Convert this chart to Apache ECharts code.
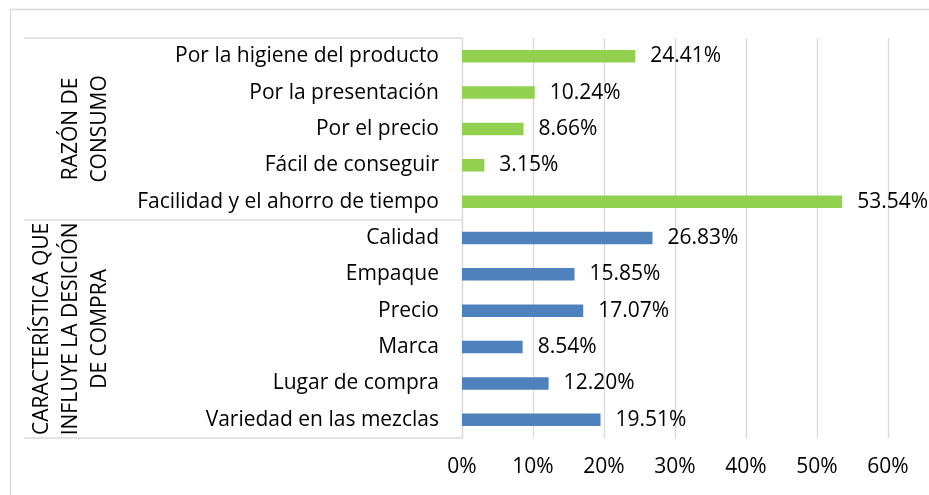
<!DOCTYPE html>
<html>
<head>
<meta charset="utf-8">
<script src="https://cdn.jsdelivr.net/npm/echarts@6/dist/echarts.min.js"></script>
<style>
  html, body { margin: 0; padding: 0; background: #fff; }
  #chart { width: 929px; height: 495px; }
</style>
</head>
<body>
<div id="chart"></div>
<script>
// categories from bottom to top (ECharts category y axis starts at the bottom)
const categories = [
    "Variedad en las mezclas", "Lugar de compra", "Marca", "Precio", "Empaque", "Calidad",
    "Facilidad y el ahorro de tiempo", "Fácil de conseguir", "Por el precio",
    "Por la presentación", "Por la higiene del producto"
];
const caracteristica = [19.51, 12.20, 8.54, 17.07, 15.85, 26.83, null, null, null, null, null];
const razon = [null, null, null, null, null, null, 53.54, 3.15, 8.66, 10.24, 24.41];
const groups = [
    { name: "CARACTERÍSTICA QUE\nINFLUYE LA DESICIÓN\nDE COMPRA", from: 0, to: 5 },
    { name: "RAZÓN DE\nCONSUMO", from: 6, to: 10 }
];
const xTicks = [0, 10, 20, 30, 40, 50, 60];

const FONT = "Open Sans";
const SIZE = 21;
const chart = echarts.init(document.getElementById("chart"));

const labelOpt = {
    show: true,
    position: "right",
    distance: 15,
    color: "#000",
    fontFamily: FONT,
    fontSize: SIZE,
    formatter: p => p.value.toFixed(2) + "%"
};

chart.setOption({
    animation: false,
    textStyle: { fontFamily: FONT },
    grid: { left: 462, right: 41, top: 38, bottom: 57 },
    xAxis: {
        type: "value",
        min: xTicks[0],
        max: xTicks[xTicks.length - 1],
        interval: 10,
        axisLine: { show: false },
        axisTick: { show: false },
        splitLine: { lineStyle: { color: "#d9d9d9", width: 1.3 } },
        axisLabel: { formatter: "{value}%", color: "#000", fontSize: SIZE, margin: 19, fontFamily: FONT }
    },
    yAxis: {
        type: "category",
        data: categories,
        axisLine: { lineStyle: { color: "#d9d9d9", width: 1.3 } },
        axisTick: { show: false },
        axisLabel: { color: "#000", fontSize: SIZE, margin: 23, fontFamily: FONT }
    },
    series: [
        {
            type: "bar", stack: "t", data: caracteristica, barWidth: 12.5,
            itemStyle: { color: "#4F81BD" }, label: labelOpt
        },
        {
            type: "bar", stack: "t", data: razon, barWidth: 12.5,
            itemStyle: { color: "#92D050" }, label: labelOpt
        }
    ]
});

// multi-level category decoration: separators and rotated group labels
const axisX = chart.convertToPixel({ xAxisIndex: 0 }, 0);
const cy = i => chart.convertToPixel({ yAxisIndex: 0 }, i);
const band = Math.abs(cy(0) - cy(1));
const lineLeft = 24;
const elements = [
    { type: "rect", shape: { x: 10.5, y: 9.5, width: 940, height: 500 },
      style: { fill: null, stroke: "#d9d9d9", lineWidth: 1.3 }, silent: true }
];
const bounds = [cy(0) + band / 2];
groups.forEach(g => bounds.push(cy(g.to) - band / 2));
bounds.forEach(y => {
    elements.push({ type: "line", shape: { x1: lineLeft, y1: y, x2: axisX, y2: y },
        style: { stroke: "#d9d9d9", lineWidth: 1.3 }, silent: true });
});
// last line of each group label sits at the same x, like Excel does
groups.forEach(g => {
    elements.push({
        type: "text", x: 115, y: (cy(g.from) + cy(g.to)) / 2, rotation: Math.PI / 2,
        style: { text: g.name, fill: "#000", font: SIZE + "px '" + FONT + "'",
                 align: "center", verticalAlign: "bottom", lineHeight: 29 }
    });
});
chart.setOption({ graphic: elements });
</script>
</body>
</html>
